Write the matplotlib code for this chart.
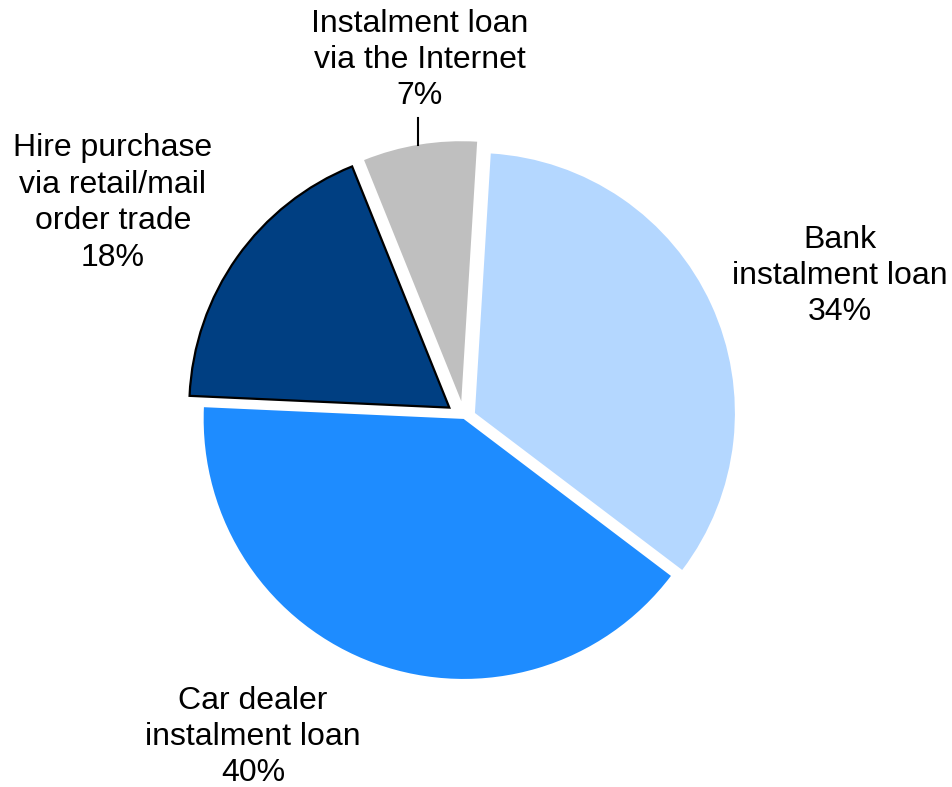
import matplotlib
matplotlib.use("Agg")
import matplotlib.pyplot as plt

plt.rcParams['font.family'] = ['Liberation Sans', 'DejaVu Sans']

# Consumer credit channels, share in percent
categories = ["Bank\ninstalment loan", "Car dealer\ninstalment loan",
              "Hire purchase\nvia retail/mail\norder trade",
              "Instalment loan\nvia the Internet"]
shares = [34, 40, 18, 7]
colors = ["#B4D7FF", "#1E8CFF", "#003F82", "#BFBFBF"]

W, H = 953, 787
fig = plt.figure(figsize=(W / 100, H / 100), dpi=100)
ax = fig.add_axes([0, 0, 1, 1])
ax.axis('off')

# pie geometry in pixel units (axes spans the whole figure, 1 unit = 1 px)
cx, cy, r = 464, H - 418, 260
offsets = [12, 1, 18, 17]   # per-slice pull-out distance

wedges, _ = ax.pie(shares, colors=colors, explode=offsets, startangle=86.5,
                   counterclock=False, center=(cx, cy), radius=r,
                   wedgeprops=dict(linewidth=0))
wedges[2].set_edgecolor('black')
wedges[2].set_linewidth(1.6)

ax.set_xlim(0, W)
ax.set_ylim(0, H)
ax.set_aspect('equal')

label_pos = [(840, H - 276), (253, H - 737), (113, H - 203), (420, H - 60)]
for name, val, (x, y) in zip(categories, shares, label_pos):
    ax.text(x, y, f"{name}\n{val}%", ha='center', va='center',
            fontsize=23, linespacing=1.28)

# leader line for the small slice
ax.plot([418, 418], [H - 118, H - 145], color='black', linewidth=1.5)

fig.savefig("out.png", dpi=100)
